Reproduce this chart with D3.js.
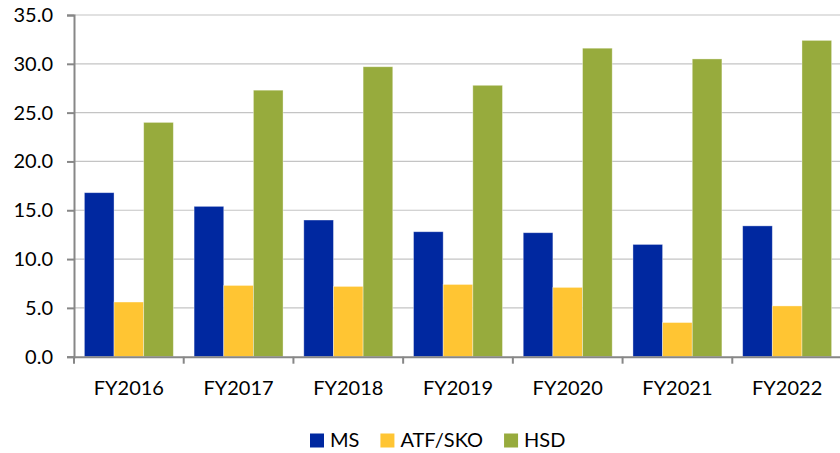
<!DOCTYPE html>
<html>
<head>
<meta charset="utf-8">
<script src="https://cdn.jsdelivr.net/npm/d3@7"></script>
<style>
  html, body { margin: 0; padding: 0; background: #fff; }
  svg { display: block; }
  text { font-family: Lato, "Open Sans", sans-serif; fill: #000; }
</style>
</head>
<body>
<svg id="chart" width="840" height="453"></svg>
<script>
// Product consumption by fiscal year
const categories = ["FY2016", "FY2017", "FY2018", "FY2019", "FY2020", "FY2021", "FY2022"];
const seriesNames = ["MS", "ATF/SKO", "HSD"];
const msValues  = [16.8, 15.4, 14.0, 12.8, 12.7, 11.5, 13.4];
const atfValues = [5.6, 7.3, 7.2, 7.4, 7.1, 3.5, 5.2];
const hsdValues = [24.0, 27.3, 29.7, 27.8, 31.6, 30.5, 32.4];
const yTicks = [0, 5, 10, 15, 20, 25, 30, 35];
const colors = ["#0028A0", "#FFC533", "#97AB3D"];

const series = [msValues, atfValues, hsdValues];

const svg = d3.select("#chart");
const plotLeft = 74, plotRight = 842, plotTop = 15, plotBottom = 356.7;

const x = d3.scaleBand().domain(categories).range([plotLeft, plotRight]).padding(0);
const y = d3.scaleLinear().domain([0, 35]).range([plotBottom, plotTop]);

// Horizontal gridlines
svg.append("g").selectAll("line").data(yTicks.filter(d => d > 0)).join("line")
  .attr("x1", plotLeft).attr("x2", plotRight)
  .attr("y1", d => y(d)).attr("y2", d => y(d))
  .attr("stroke", "#c4c4c4").attr("stroke-width", 1.2);

// Bars: three per category, 70% gap width split around the group
const barW = x.bandwidth() / (3 + 0.7);
const groups = svg.append("g").selectAll("g").data(series).join("g")
  .attr("fill", (d, i) => colors[i]);
groups.selectAll("rect").data((vals, si) => vals.map((v, ci) => ({ v, ci, si }))).join("rect")
  .attr("x", d => x(categories[d.ci]) + barW * 0.35 + d.si * barW)
  .attr("width", barW)
  .attr("y", d => y(d.v))
  .attr("height", d => y(0) - y(d.v))
  .attr("stroke", "rgba(255,255,255,0.45)").attr("stroke-width", 0.8);

// Y axis
const yAxis = d3.axisLeft(y).tickValues(yTicks).tickFormat(d3.format(".1f")).tickSize(7).tickPadding(14);
const gy = svg.append("g").attr("transform", `translate(${plotLeft},0)`).call(yAxis);
gy.select(".domain").attr("stroke", "#878787").attr("stroke-width", 2);
gy.selectAll(".tick line").attr("stroke", "#878787").attr("stroke-width", 2);
gy.selectAll(".tick text").attr("font-size", 20).attr("font-family", "Lato, sans-serif").attr("fill", "#000");

// X axis
const xAxis = d3.axisBottom(x).tickSize(0).tickPadding(24);
const gx = svg.append("g").attr("transform", `translate(0,${plotBottom})`).call(xAxis);
gx.select(".domain").attr("stroke", "#878787").attr("stroke-width", 2);
gx.selectAll(".tick text").attr("font-size", 20).attr("font-family", "Lato, sans-serif").attr("fill", "#000");
// Category separators below the axis
svg.append("g").selectAll("line").data(categories).join("line")
  .attr("x1", d => x(d)).attr("x2", d => x(d))
  .attr("y1", plotBottom).attr("y2", plotBottom + 7)
  .attr("stroke", "#878787").attr("stroke-width", 2);

// Legend
const legend = svg.append("g").attr("transform", "translate(310,0)");
let lx = 0;
seriesNames.forEach((name, i) => {
  const item = legend.append("g").attr("transform", `translate(${lx},0)`);
  item.append("rect").attr("x", 0).attr("y", 433.5).attr("width", 14).attr("height", 14).attr("fill", colors[i]);
  const t = item.append("text").attr("x", 20).attr("y", 447).attr("font-size", 20).text(name);
  lx += 20 + t.node().getComputedTextLength() + 21;
});
</script>
</body>
</html>
